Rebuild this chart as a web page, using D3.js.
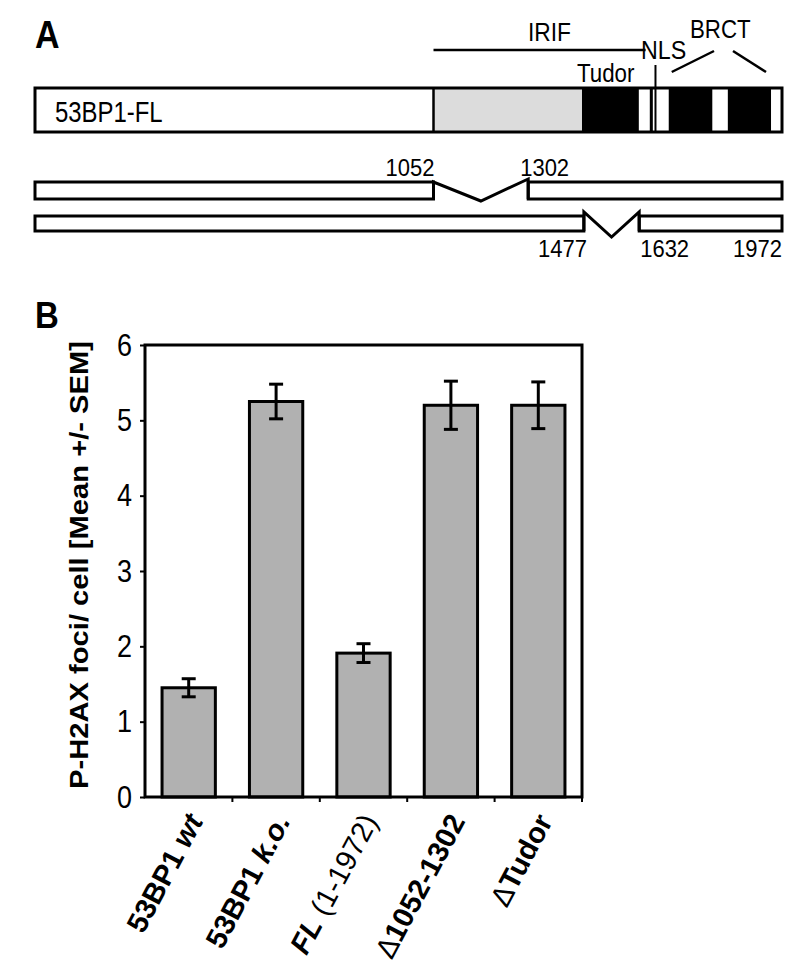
<!DOCTYPE html>
<html><head><meta charset="utf-8">
<script src="https://cdn.jsdelivr.net/npm/d3@7"></script>
<style>body{margin:0;background:#fff}svg text{font-family:"Liberation Sans",Arial,sans-serif}</style></head>
<body><svg id="c" width="800" height="973"></svg>
<script>
// ---------- Panel B data ----------
const categories = ["53BP1 wt", "53BP1 k.o.", "FL (1-1972)", "Δ1052-1302", "ΔTudor"];
const means = [1.45, 5.25, 1.91, 5.20, 5.20];
const sems = [0.12, 0.23, 0.125, 0.32, 0.31];
const yTicks = [0, 1, 2, 3, 4, 5, 6];

// ---------- Panel A data (amino-acid positions) ----------
const proteinLength = 1972;
const irifDomain = [1052, 1444];
const darkDomains = [[1444, 1594], [1623, 1631], [1673, 1788], [1829, 1943]];
const brctDomains = [[1673, 1788], [1829, 1943]];
const nlsPos = 1638;
const irifSpan = [1052, 1612];
const deletionDraw = [[1052, 1302], [1449, 1595]];
const deletionLabels = [["1052", "1302"], ["1477", "1632"]];

(function () {
const svg = d3.select("#c");

function label(xp, yp, txt, size, opts = {}) {
  const sx = opts.sx || 1, sy = opts.sy || 1;
  return svg.append("text")
    .attr("transform", `translate(${xp},${yp}) scale(${sx},${sy})`)
    .attr("font-size", size)
    .attr("font-weight", opts.bold ? "bold" : "normal")
    .attr("text-anchor", opts.anchor || "start")
    .text(txt);
}

// ================= Panel A =================
label(35, 48, "A", 34, {bold: true, sy: 1.15});

const xA = d3.scaleLinear().domain([0, proteinLength]).range([35, 782]);
const flTop = 88, flBot = 132;

svg.append("rect").attr("x", xA(0)).attr("y", flTop).attr("width", xA(proteinLength) - xA(0)).attr("height", flBot - flTop)
  .attr("fill", "#fff");
svg.append("rect").attr("x", xA(irifDomain[0])).attr("y", flTop).attr("width", xA(irifDomain[1]) - xA(irifDomain[0])).attr("height", flBot - flTop)
  .attr("fill", "#dcdcdc");
svg.selectAll("rect.dark").data(darkDomains).join("rect").attr("class", "dark")
  .attr("x", d => xA(d[0])).attr("y", flTop).attr("width", d => xA(d[1]) - xA(d[0])).attr("height", flBot - flTop).attr("fill", "#000");
svg.append("line").attr("x1", xA(irifDomain[0])).attr("x2", xA(irifDomain[0])).attr("y1", flTop).attr("y2", flBot).attr("stroke", "#000").attr("stroke-width", 2.5);
svg.append("line").attr("x1", xA(nlsPos)).attr("x2", xA(nlsPos)).attr("y1", 65).attr("y2", flBot).attr("stroke", "#000").attr("stroke-width", 2);
svg.append("rect").attr("x", xA(0)).attr("y", flTop).attr("width", xA(proteinLength) - xA(0)).attr("height", flBot - flTop)
  .attr("fill", "none").attr("stroke", "#000").attr("stroke-width", 3);
label(55, 122, "53BP1-FL", 26, {sx: 0.92, sy: 1.15});

// IRIF line and domain labels
svg.append("line").attr("x1", xA(irifSpan[0])).attr("x2", xA(irifSpan[1])).attr("y1", 50).attr("y2", 50).attr("stroke", "#000").attr("stroke-width", 2.5);
label(528, 41, "IRIF", 24, {sx: 0.95, sy: 1.05});
label(577, 82, "Tudor", 23, {sx: 0.97, sy: 1.1});
label(641, 59, "NLS", 24, {sx: 0.97, sy: 1.1});
label(690, 38, "BRCT", 23, {sx: 0.97, sy: 1.12});
const brctTop = [714, 733];
svg.selectAll("line.brct").data(brctDomains).join("line").attr("class", "brct")
  .attr("x1", (d, i) => brctTop[i]).attr("y1", 51)
  .attr("x2", (d, i) => i === 0 ? xA(d[0]) + 3 : xA(d[1]) - 5).attr("y2", 72)
  .attr("stroke", "#000").attr("stroke-width", 2.5);

// Deletion constructs
const rows = [{top: 182, bot: 199, vL: 182, vB: 201, vR: 179, lab: "above"},
              {top: 216, bot: 231, vL: 212, vB: 237, vR: 212, lab: "below"}];
rows.forEach((r, i) => {
  const [d1, d2] = deletionDraw[i];
  const g = svg.append("g").attr("fill", "none").attr("stroke", "#000").attr("stroke-width", 3);
  g.append("rect").attr("x", xA(0)).attr("y", r.top).attr("width", xA(d1) - xA(0)).attr("height", r.bot - r.top).attr("fill", "#fff");
  g.append("rect").attr("x", xA(d2)).attr("y", r.top).attr("width", xA(proteinLength) - xA(d2)).attr("height", r.bot - r.top).attr("fill", "#fff");
  const mid = (xA(d1) + xA(d2)) / 2;
  g.append("path").attr("d", `M${xA(d1)},${r.bot}L${xA(d1)},${r.vL}L${mid},${r.vB}L${xA(d2)},${r.vR}L${xA(d2)},${r.bot}`)
    .attr("stroke-linejoin", "miter");
  const [l1, l2] = deletionLabels[i];
  const o = {sy: 1.08};
  if (r.lab === "above") {
    label(xA(d1) + 1, 176, l1, 22, {...o, anchor: "end"});
    label(xA(d2) - 8, 176, l2, 22, o);
  } else {
    label(xA(d1) + 3, 257, l1, 22, {...o, anchor: "end"});
    label(xA(d2) + 1, 257, l2, 22, o);
    label(xA(proteinLength), 257, String(proteinLength), 22, {...o, anchor: "end"});
  }
});

// ================= Panel B =================
label(35, 328, "B", 33, {bold: true, sy: 1.1});

const pL = 145, pR = 582, pT = 345, pB = 797;
const x = d3.scaleBand().domain(categories).range([pL, pR]).paddingInner(0.39).paddingOuter(0.195);
const y = d3.scaleLinear().domain([0, 6]).range([pB, pT]);

svg.selectAll("rect.bar").data(categories).join("rect").attr("class", "bar")
  .attr("x", c => x(c)).attr("width", x.bandwidth())
  .attr("y", (c, i) => y(means[i])).attr("height", (c, i) => y(0) - y(means[i]))
  .attr("fill", "#b1b1b1").attr("stroke", "#000").attr("stroke-width", 3);

const eb = svg.append("g").attr("stroke", "#000").attr("stroke-width", 3);
categories.forEach((c, i) => {
  const cx = x(c) + x.bandwidth() / 2;
  const hi = y(means[i] + sems[i]), lo = y(means[i] - sems[i]);
  eb.append("line").attr("x1", cx).attr("x2", cx).attr("y1", hi).attr("y2", lo);
  eb.append("line").attr("x1", cx - 7).attr("x2", cx + 7).attr("y1", hi).attr("y2", hi);
  eb.append("line").attr("x1", cx - 7).attr("x2", cx + 7).attr("y1", lo).attr("y2", lo);
});

svg.append("rect").attr("x", pL).attr("y", pT).attr("width", pR - pL).attr("height", pB - pT)
  .attr("fill", "none").attr("stroke", "#000").attr("stroke-width", 3);

const ya = svg.append("g").attr("transform", `translate(${pL},0)`)
  .call(d3.axisLeft(y).tickValues(yTicks).tickFormat(d3.format("d")).tickSize(5).tickSizeOuter(0).tickPadding(8));
ya.select(".domain").remove();
ya.selectAll(".tick line").attr("stroke", "#000").attr("stroke-width", 2);
ya.selectAll(".tick text").attr("font-size", 27).attr("fill", "#000")
  .attr("font-family", '"Liberation Sans",Arial,sans-serif')
  .attr("dy", null).attr("transform", "translate(0,10) scale(1,1.15)").attr("y", 0);

const boundaries = categories.map(c => x(c) + x.bandwidth() + (x.step() - x.bandwidth()) / 2);
svg.selectAll("line.xt").data(boundaries).join("line").attr("class", "xt")
  .attr("x1", d => d).attr("x2", d => d).attr("y1", pB).attr("y2", pB + 5)
  .attr("stroke", "#000").attr("stroke-width", 2);

svg.append("text").attr("transform", `translate(88,565) rotate(-90)`)
  .attr("text-anchor", "middle").attr("font-size", 25).attr("font-weight", "bold")
  .attr("textLength", 448).attr("lengthAdjust", "spacingAndGlyphs")
  .text("P-H2AX foci/ cell [Mean +/- SEM]");

function labelParts(c) {
  if (c.startsWith("Δ")) return [{t: "Δ", w: "normal", s: "normal"}, {t: c.slice(1), w: "bold", s: "normal"}];
  if (c.startsWith("53BP1 ")) return [{t: "53BP1 ", w: "bold", s: "normal"}, {t: c.slice(6), w: "bold", s: "italic"}];
  if (c.startsWith("FL")) return [{t: "FL", w: "bold", s: "italic"}, {t: c.slice(2), w: "normal", s: "normal"}];
  return [{t: c, w: "bold", s: "normal"}];
}
categories.forEach(c => {
  const t = svg.append("text")
    .attr("transform", `translate(${x(c) + x.bandwidth() / 2 + 15},821) rotate(-62)`)
    .attr("text-anchor", "end").attr("font-size", 29);
  labelParts(c).forEach(p => t.append("tspan").attr("font-weight", p.w).attr("font-style", p.s).text(p.t));
});
})();
</script></body></html>
